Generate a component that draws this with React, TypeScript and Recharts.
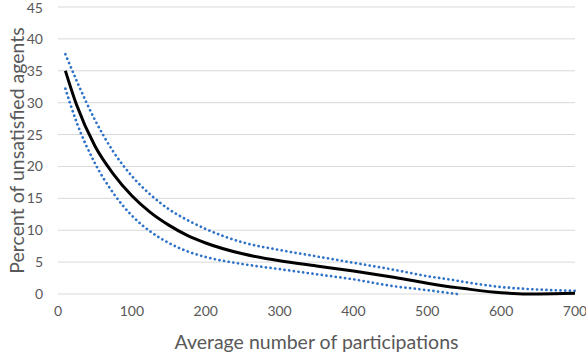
import { LineChart, Line, XAxis, YAxis, CartesianGrid } from "recharts";

// average number of participations
const participations = [10, 25, 50, 75, 100, 125, 150, 175, 200, 250, 300, 350, 400, 450, 500, 540, 550, 600, 650, 700];

// percent of unsatisfied agents (mean) and the dotted upper / lower bands
const meanPct = [35, 29.7, 23.2, 18.8, 15.4, 12.8, 10.8, 9.2, 8.0, 6.3, 5.2, 4.4, 3.6, 2.7, 1.7, 1.0, 0.85, 0.2, 0.0, 0.1];
const upperPct = [37.6, 33.5, 27.3, 22.3, 18.5, 15.6, 13.3, 11.6, 10.2, 8.1, 6.9, 5.9, 4.9, 3.9, 2.8, 2.1, 1.9, 1.1, 0.7, 0.5];
const lowerPct = [32.2, 27.0, 20.5, 15.8, 12.3, 9.8, 8.0, 6.7, 5.8, 4.7, 3.9, 3.1, 2.3, 1.3, 0.6, 0, null, null, null, null];

const xTicks = [0, 100, 200, 300, 400, 500, 600, 700];
const yTicks = [0, 5, 10, 15, 20, 25, 30, 35, 40, 45];

const data = participations.map((x, i) => ({
  x,
  mean: meanPct[i],
  upper: upperPct[i],
  lower: lowerPct[i],
}));

const font = "Lato, 'Open Sans', sans-serif";
const gray = "#595959";
const blue = "#2E72C8";

export default function App() {
  return (
    <div style={{ position: "absolute", left: 0, top: 0, background: "#fff" }}>
      <LineChart width={586} height={354} data={data} margin={{ top: 7, right: 11, left: 0, bottom: 0 }}>
        <CartesianGrid vertical={false} stroke="#D9D9D9" strokeWidth={1} />
        <XAxis
          dataKey="x"
          type="number"
          domain={[0, 700]}
          ticks={xTicks}
          axisLine={false}
          tickLine={false}
          tickSize={0}
          tickMargin={12}
          height={60}
          tick={{ fill: gray, fontSize: 14, fontFamily: font }}
          label={{
            value: "Average number of participations",
            position: "insideBottom",
            offset: 5,
            style: { fill: gray, fontSize: 19.5, fontFamily: font },
          }}
        />
        <YAxis
          type="number"
          domain={[0, 45]}
          ticks={yTicks}
          axisLine={false}
          tickLine={false}
          tickSize={0}
          tickMargin={15}
          width={58}
          tick={{ fill: gray, fontSize: 14, fontFamily: font }}
          label={{
            value: "Percent of unsatisfied agents",
            angle: -90,
            position: "insideLeft",
            offset: 17,
            style: { fill: gray, fontSize: 19.5, fontFamily: font, textAnchor: "middle" },
          }}
        />
        <Line
          type="monotone"
          dataKey="upper"
          stroke={blue}
          strokeWidth={2.7}
          strokeDasharray="0.1 4.6"
          strokeLinecap="round"
          dot={false}
          isAnimationActive={false}
        />
        <Line
          type="monotone"
          dataKey="lower"
          stroke={blue}
          strokeWidth={2.7}
          strokeDasharray="0.1 4.6"
          strokeLinecap="round"
          dot={false}
          isAnimationActive={false}
        />
        <Line
          type="monotone"
          dataKey="mean"
          stroke="#000"
          strokeWidth={3}
          dot={false}
          isAnimationActive={false}
        />
      </LineChart>
    </div>
  );
}
